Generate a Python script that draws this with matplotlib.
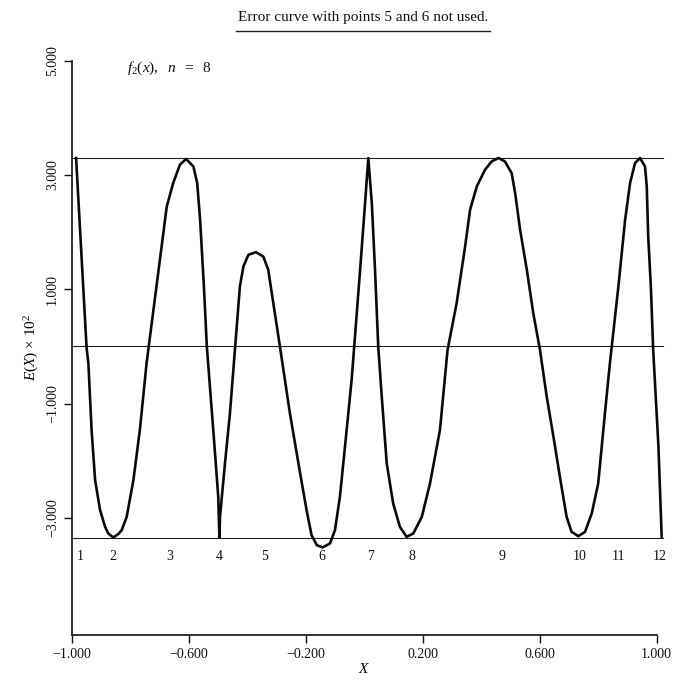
import matplotlib
matplotlib.use("Agg")
import matplotlib.pyplot as plt
from matplotlib.lines import Line2D

plt.rcParams['font.family'] = ['Liberation Serif', 'DejaVu Serif']
plt.rcParams['mathtext.fontset'] = 'custom'
plt.rcParams['mathtext.rm'] = 'Liberation Serif'
plt.rcParams['mathtext.it'] = 'Liberation Serif:italic'

# ---- data ----
curve_x = [-0.985, -0.949, -0.943, -0.932, -0.920, -0.903, -0.886, -0.875, -0.858, -0.841,
           -0.829, -0.812, -0.789, -0.767, -0.744, -0.675, -0.653, -0.630, -0.609, -0.584,
           -0.571, -0.561, -0.548, -0.538, -0.516, -0.499, -0.495, -0.493, -0.476, -0.459,
           -0.442, -0.425, -0.413, -0.396, -0.370, -0.345, -0.328, -0.316, -0.288, -0.254,
           -0.219, -0.197, -0.180, -0.162, -0.142, -0.117, -0.100, -0.083, -0.060, -0.043,
           -0.035, -0.014, 0.003, 0.014, 0.026, 0.037, 0.048, 0.060, 0.077, 0.099,
           0.122, 0.145, 0.168, 0.197, 0.225, 0.259, 0.285, 0.316, 0.345, 0.362,
           0.385, 0.413, 0.436, 0.459, 0.481, 0.504, 0.516, 0.533, 0.556, 0.578,
           0.601, 0.624, 0.647, 0.669, 0.692, 0.709, 0.732, 0.755, 0.778, 0.800,
           0.823, 0.840, 0.869, 0.892, 0.909, 0.926, 0.943, 0.960, 0.966, 0.971,
           0.980, 0.988, 1.006, 1.017]
curve_y = [3.297, -0.032, -0.294, -1.463, -2.339, -2.864, -3.157, -3.273, -3.343, -3.285,
           -3.215, -2.982, -2.339, -1.463, -0.294, 2.449, 2.859, 3.180, 3.280, 3.150,
           2.859, 2.216, 1.048, -0.004, -1.463, -2.631, -3.343, -2.982, -2.046, -1.170,
           -0.061, 1.048, 1.398, 1.603, 1.650, 1.573, 1.340, 0.932, -0.004, -1.170,
           -2.221, -2.864, -3.302, -3.478, -3.518, -3.448, -3.215, -2.631, -1.463, -0.587,
           -0.061, 1.340, 2.509, 3.297, 2.509, 1.340, -0.004, -0.879, -2.046, -2.747,
           -3.157, -3.332, -3.273, -2.982, -2.397, -1.463, -0.061, 0.757, 1.748, 2.391,
           2.800, 3.092, 3.238, 3.297, 3.238, 3.034, 2.684, 2.041, 1.340, 0.582,
           -0.061, -0.879, -1.580, -2.281, -2.982, -3.245, -3.320, -3.245, -2.922, -2.397,
           -1.170, -0.294, 1.048, 2.216, 2.859, 3.210, 3.297, 3.150, 2.800, 1.924,
           1.048, -0.061, -1.755, -3.332]

level_values = [3.30, 0.0, -3.35]

point_labels = ['1', '2', '3', '4', '5', '6', '7', '8', '9', '10', '11', '12']
point_label_x = [-0.972, -0.858, -0.666, -0.495, -0.339, -0.145, 0.022, 0.164,
                 0.470, 0.738, 0.869, 1.011]
point_label_y = -3.67

x_ticks = [-1.0, -0.6, -0.2, 0.2, 0.6, 1.0]
x_tick_labels = ['\u22121.000', '\u22120.600', '\u22120.200', '0.200', '0.600', '1.000']
y_ticks = [-3.0, -1.0, 1.0, 3.0, 5.0]
y_tick_labels = ['\u22123.000', '\u22121.000', '1.000', '3.000', '5.000']

title_text = 'Error curve with points 5 and 6 not used.'
annot_text = r'$f_2(x),\ \ n\ \ =\ \ 8$'
y_label = r'$E(X)$ ' + '\u00d7' + r' 10$^2$'

# ---- figure ----
W, H = 684, 680
fig = plt.figure(figsize=(W / 100, H / 100), dpi=100)
ax = fig.add_axes([71.7 / W, 45 / H, (656.7 - 71.7) / W, (635 - 60.7) / H])
ax.set_xlim(-1.0, 1.0)
ax.set_ylim(-5.05, 5.0)

for s in ('top', 'right'):
    ax.spines[s].set_visible(False)
for s in ('left', 'bottom'):
    ax.spines[s].set_linewidth(1.2)
    ax.spines[s].set_color('#111111')

for lv in level_values:
    ax.plot([-1.0, 1.02], [lv, lv], color='#222222', lw=0.8, clip_on=False, zorder=1)

ax.plot(curve_x, curve_y, color='#0a0a0a', lw=1.9, clip_on=False, zorder=3,
        solid_joinstyle='round')

for lab, px in zip(point_labels, point_label_x):
    ax.text(px, point_label_y, lab, ha='center', va='center', fontsize=10, color='#111111')

ax.set_xticks(x_ticks)
ax.set_xticklabels(x_tick_labels, fontsize=10)
ax.set_yticks(y_ticks)
ax.set_yticklabels(y_tick_labels, fontsize=10, rotation=90, va='center')
ax.tick_params(direction='out', length=6, width=1, colors='#111111', pad=3)

ax.set_xlabel(r'$X$', fontsize=11, labelpad=1)
ax.set_ylabel(y_label, fontsize=11, labelpad=4)

ax.text(-0.811, 4.87, annot_text, ha='left', va='center', fontsize=11, color='#111111')

t = fig.text(363 / W, 1 - 18 / H, title_text, ha='center', va='center', fontsize=11,
             color='#111111')
fig.canvas.draw()
bb = t.get_window_extent().transformed(fig.transFigure.inverted())
fig.add_artist(Line2D([bb.x0 - 0.003, bb.x1 + 0.003], [1 - 31 / H, 1 - 31 / H],
                      transform=fig.transFigure, color='#222222', lw=1.0))

fig.savefig('out.png', dpi=100)
